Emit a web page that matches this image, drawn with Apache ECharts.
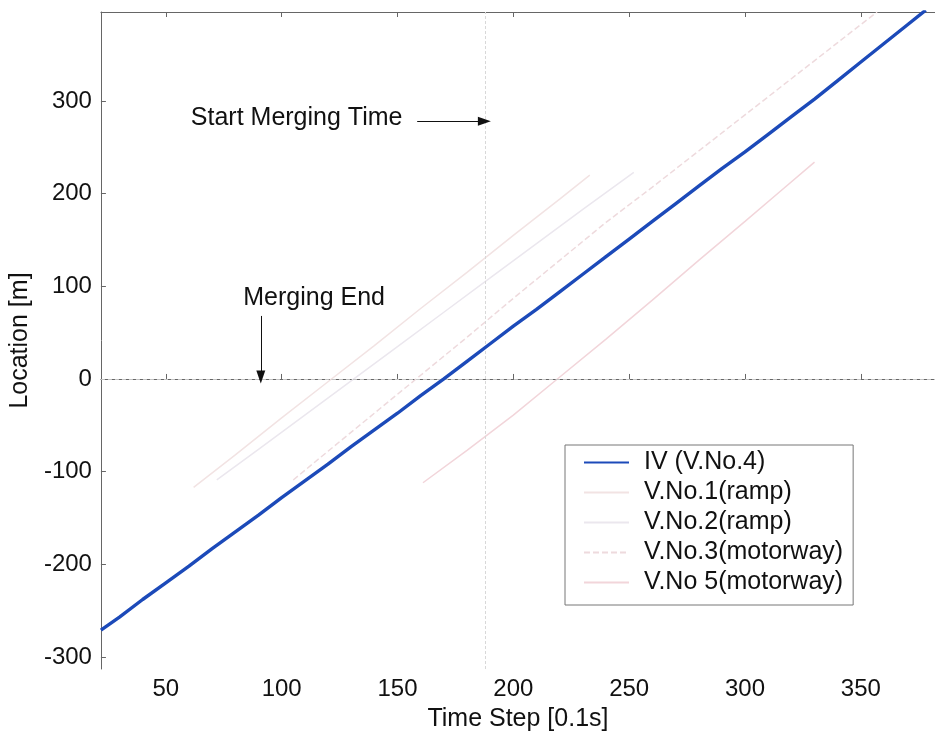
<!DOCTYPE html>
<html>
<head>
<meta charset="utf-8">
<script src="https://cdn.jsdelivr.net/npm/echarts@6/dist/echarts.min.js"></script>
<style>
  html, body { margin: 0; padding: 0; background: #fff; }
  #chart { width: 935px; height: 737px; }
</style>
</head>
<body>
<div id="chart"></div>
<script>
// Vehicle trajectories: time step [0.1 s] -> location [m]
const ivTime = [22, 30, 40, 50, 60, 70, 80, 90, 100, 110, 120, 130, 140, 150, 160, 170,
  180, 190, 200, 210, 220, 230, 240, 250, 260, 270, 280, 290, 300, 310, 320, 330, 340, 350, 360, 370, 378];
const ivLoc = [-271, -257, -238, -220, -202, -183, -165, -147, -128, -110, -92, -73, -55, -37, -18, 0,
  19, 38, 57, 75, 94, 113, 132, 151, 170, 189, 208, 227, 245, 264, 283, 302, 322, 342, 362, 382, 398];

const v1Time = [62, 80, 100, 120, 140, 160, 180, 200, 220, 233];
const v1Loc = [-117, -82, -42, -3, 36, 76, 115, 155, 194, 220];

const v2Time = [72, 90, 110, 130, 150, 170, 190, 210, 230, 252];
const v2Loc = [-109, -76, -39, -2, 35, 72, 109, 146, 183, 223];

const v3Time = [105, 120, 140, 160, 180, 200, 220, 240, 260, 280, 300, 320, 340, 357];
const v3Loc = [-109, -78, -37, 4, 45, 87, 128, 169, 207, 246, 285, 324, 363, 396];

const v5Time = [161, 180, 200, 219, 240, 260, 280, 300, 315, 330];
const v5Loc = [-112, -77, -39, 0, 43, 85, 128, 170, 202, 234];

const seriesNames = ['IV (V.No.4)', 'V.No.1(ramp)', 'V.No.2(ramp)', 'V.No.3(motorway)', 'V.No 5(motorway)'];

const xTicks = [50, 100, 150, 200, 250, 300, 350];
const yTicks = [-300, -200, -100, 0, 100, 200, 300];

// Event markers
const startMergingTime = 188;
const mergingEndTime = 91;

const pair = (ts, ys) => ts.map((t, i) => [t, ys[i]]);

const FONT = "'Liberation Sans', Arial, Helvetica, sans-serif";
const TEXT = '#111';
const chart = echarts.init(document.getElementById('chart'), null, { renderer: 'canvas' });

const axisLineStyle = { color: '#666', width: 1 };

chart.setOption({
  animation: false,
  backgroundColor: '#fff',
  grid: { left: 99, top: 12, right: 0, bottom: 68 },
  legend: {
    data: seriesNames,
    orient: 'vertical',
    left: 565,
    top: 445,
    backgroundColor: '#fff',
    borderColor: '#777',
    borderWidth: 1,
    borderRadius: 0,
    padding: [5, 10, 10, 18],
    itemWidth: 45,
    itemHeight: 12,
    itemGap: 5,
    itemStyle: { opacity: 0 },
    textStyle: { fontFamily: FONT, fontSize: 25, color: TEXT, lineHeight: 25, padding: [0, 0, 0, 10] }
  },
  xAxis: [{
    type: 'value', min: 22, max: 382,
    name: 'Time Step [0.1s]', nameLocation: 'middle', nameGap: 38,
    nameTextStyle: { fontFamily: FONT, fontSize: 25, color: TEXT },
    axisLine: { lineStyle: axisLineStyle },
    axisTick: { show: true, inside: true, length: 5, customValues: xTicks, lineStyle: axisLineStyle },
    axisLabel: { customValues: xTicks, fontFamily: FONT, fontSize: 24, color: TEXT, margin: 8 },
    splitLine: { show: false }
  }, {
    type: 'value', min: 22, max: 382, position: 'top',
    axisLine: { lineStyle: axisLineStyle },
    axisTick: { show: true, inside: true, length: 5, customValues: xTicks, lineStyle: axisLineStyle },
    axisLabel: { show: false },
    splitLine: { show: false }
  }],
  yAxis: {
    type: 'value', min: -313, max: 396,
    name: 'Location [m]', nameLocation: 'middle', nameGap: 67,
    nameTextStyle: { fontFamily: FONT, fontSize: 25, color: TEXT },
    axisLine: { show: true, lineStyle: axisLineStyle },
    axisTick: { show: true, inside: true, length: 5, customValues: yTicks, lineStyle: axisLineStyle },
    axisLabel: { customValues: yTicks, fontFamily: FONT, fontSize: 24, color: TEXT, margin: 9 },
    splitLine: { show: false }
  },
  series: [
    {
      name: seriesNames[1], type: 'line', showSymbol: false, symbol: 'none', z: 2,
      data: pair(v1Time, v1Loc),
      lineStyle: { color: '#f2e3e3', width: 1.5 }, itemStyle: { color: '#f2e3e3' }
    },
    {
      name: seriesNames[2], type: 'line', showSymbol: false, symbol: 'none', z: 2,
      data: pair(v2Time, v2Loc),
      lineStyle: { color: '#ebe7ee', width: 1.5 }, itemStyle: { color: '#ebe7ee' }
    },
    {
      name: seriesNames[3], type: 'line', showSymbol: false, symbol: 'none', z: 2,
      data: pair(v3Time, v3Loc),
      lineStyle: { color: '#eedadd', width: 1.5, type: [6, 3] }, itemStyle: { color: '#eedadd' }
    },
    {
      name: seriesNames[4], type: 'line', showSymbol: false, symbol: 'none', z: 2,
      data: pair(v5Time, v5Loc),
      lineStyle: { color: '#f2d5da', width: 1.5 }, itemStyle: { color: '#f2d5da' }
    },
    {
      name: seriesNames[0], type: 'line', showSymbol: false, symbol: 'none', z: 5,
      data: pair(ivTime, ivLoc),
      lineStyle: { color: '#1c4ab9', width: 3.4 }, itemStyle: { color: '#1c4ab9' },
      markLine: {
        silent: true, symbol: 'none', animation: false,
        label: { show: false },
        data: [
          [{ coord: [startMergingTime, -313], lineStyle: { color: '#d8d8d8', width: 1, type: [3, 2] } },
           { coord: [startMergingTime, 396] }],
          [{ coord: [22, 0], lineStyle: { color: '#c4c4c4', width: 1, type: [4, 3] } },
           { coord: [382, 0] }]
        ]
      }
    },
    {
      // arrows pointing at the merging events
      name: 'arrows', type: 'line', data: [], z: 6,
      markLine: {
        silent: true, animation: false,
        symbol: ['none', 'triangle'], symbolSize: [9, 13],
        label: { show: false },
        lineStyle: { color: '#111', width: 1, type: 'solid' },
        data: [
          [{ coord: [158.5, 278] }, { coord: [187.5, 278] }],
          [{ coord: [mergingEndTime, 68] }, { coord: [mergingEndTime, 2] }]
        ]
      }
    }
  ]
});

// annotation texts anchored in data coordinates
const annotations = [
  { text: 'Start Merging Time', at: [60.8, 281], align: 'left' },
  { text: 'Merging End', at: [114, 87], align: 'center' }
];
chart.setOption({
  graphic: annotations.map(a => {
    const p = chart.convertToPixel({ xAxisIndex: 0, yAxisIndex: 0 }, a.at);
    return {
      type: 'text', x: p[0], y: p[1], z: 10, silent: true,
      style: { text: a.text, fill: TEXT, font: '25px ' + FONT, textAlign: a.align, textVerticalAlign: 'middle' }
    };
  })
});
</script>
</body>
</html>
